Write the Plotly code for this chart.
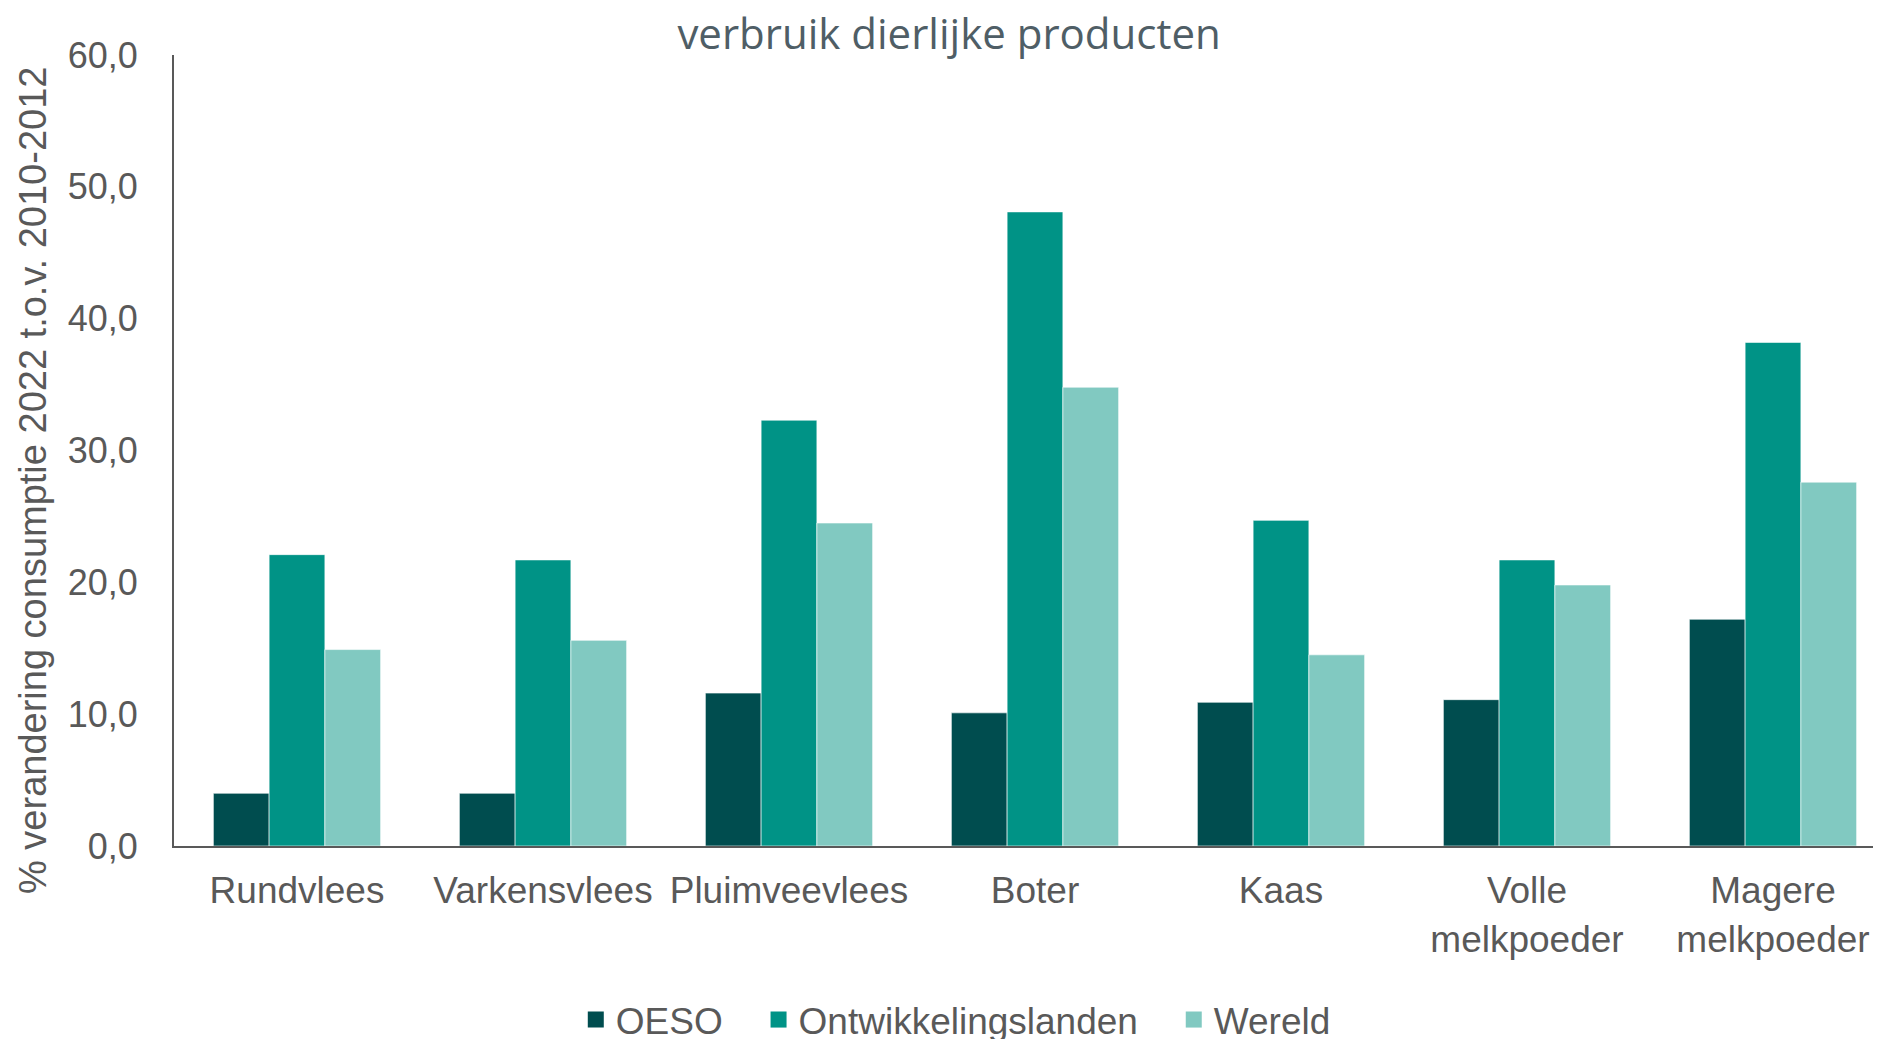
import plotly.graph_objects as go

# categorieën en waarden (% verandering consumptie 2022 t.o.v. 2010-2012)
producten = ["Rundvlees", "Varkensvlees", "Pluimveevlees", "Boter", "Kaas",
             "Volle<br>melkpoeder", "Magere<br>melkpoeder"]
oeso = [4.0, 4.0, 11.6, 10.1, 10.9, 11.1, 17.2]
ontwikkelingslanden = [22.1, 21.7, 32.3, 48.1, 24.7, 21.7, 38.2]
wereld = [14.9, 15.6, 24.5, 34.8, 14.5, 19.8, 27.6]
reeksen = ["OESO", "Ontwikkelingslanden", "Wereld"]
kleuren = ["#004D4F", "#009386", "#81C9C1"]
y_ticks = [0, 10, 20, 30, 40, 50, 60]
y_labels = ["0,0", "10,0", "20,0", "30,0", "40,0", "50,0", "60,0"]

grijs = "#595959"
font_arial = "Liberation Sans, Arial, sans-serif"
ruimte = "\u00a0\u00a0\u00a0"  # extra afstand tussen legenda-items

fig = go.Figure()
for naam, waarden, kleur in zip(reeksen, [oeso, ontwikkelingslanden, wereld], kleuren):
    fig.add_trace(go.Bar(name=naam, x=producten, y=waarden, showlegend=False,
                         marker=dict(color=kleur, line=dict(color="white", width=0.6))))
# legenda met grotere vierkantjes
for i, (naam, kleur) in enumerate(zip(reeksen, kleuren)):
    label = naam + (ruimte if i < len(reeksen) - 1 else "")
    fig.add_trace(go.Scatter(name=label, x=[None], y=[None], mode="markers",
                             marker=dict(symbol="square", size=19, color=kleur)))

# de pagina heeft 8px body-marge, daarom alles 8px naar links/boven;
# het plotgebied loopt in het origineel iets voorbij de rechterrand
fig.update_layout(
    width=1900, height=1039,
    barmode="group", bargap=0.32, bargroupgap=0,
    plot_bgcolor="white", paper_bgcolor="white",
    margin=dict(l=166, r=12, t=47, b=201, autoexpand=False),
    title=dict(text="verbruik dierlijke producten", x=0.4953, xanchor="center",
               y=0.975, yanchor="middle",
               font=dict(family="Open Sans, sans-serif", size=42, color="#4F5E66")),
    font=dict(family=font_arial, color=grijs),
    legend=dict(orientation="h", x=0.454, xanchor="center", y=-0.22, yanchor="middle",
                font=dict(size=37, color=grijs), itemwidth=30, traceorder="normal"),
    xaxis=dict(showline=True, linecolor=grijs, linewidth=2, showgrid=False,
               tickfont=dict(size=37, color=grijs), ticks="", automargin=False,
               ticklabelstandoff=11),
    yaxis=dict(range=[0, 60], tickvals=y_ticks, ticktext=y_labels,
               showline=True, linecolor=grijs, linewidth=2, showgrid=False, zeroline=False,
               tickfont=dict(size=36, color=grijs), ticks="", automargin=False,
               ticklabelstandoff=27),
    annotations=[dict(text="% verandering consumptie 2022 t.o.v. 2010-2012",
                      textangle=-90, xref="paper", yref="paper",
                      x=-0.0819, y=0.4627, xanchor="center", yanchor="middle",
                      showarrow=False, font=dict(size=38, color=grijs))],
)

fig.write_html("out.html")
